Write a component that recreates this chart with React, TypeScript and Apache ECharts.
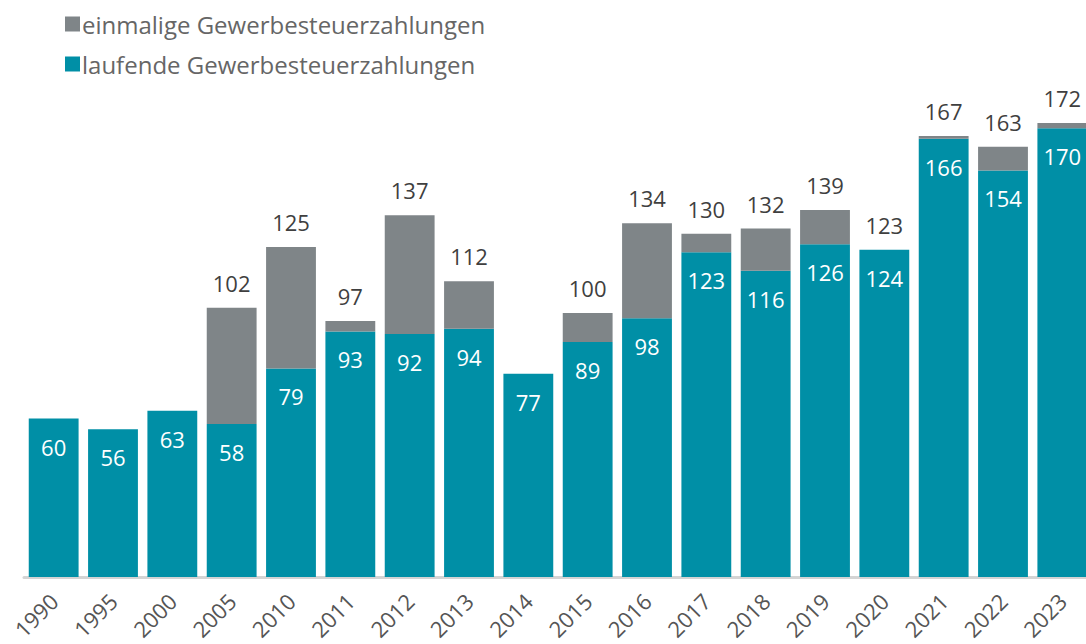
import React, { useEffect, useRef } from "react";
import * as echarts from "echarts";

const years = ["1990","1995","2000","2005","2010","2011","2012","2013","2014","2015","2016","2017","2018","2019","2020","2021","2022","2023"];
const laufende = [60,56,63,58,79,93,92,94,77,89,98,123,116,126,124,166,154,170];
const einmalige = [0,0,0,44,46,4,45,18,0,11,36,7,16,13,0,1,9,2];
const totals: (number | null)[] = [null,null,null,102,125,97,137,112,null,100,134,130,132,139,123,167,163,172];

const FONT = "'Open Sans', 'Noto Sans', sans-serif";

export default function App() {
  const ref = useRef<HTMLDivElement>(null);
  useEffect(() => {
    document.body.style.margin = "0";
    document.body.style.overflow = "hidden";
    const chart = echarts.init(ref.current!, null, { renderer: "svg" });
    chart.setOption({
      animation: false,
      textStyle: { fontFamily: FONT },
      legend: {
        orient: "vertical",
        left: 60,
        top: 7,
        itemWidth: 15,
        itemHeight: 15,
        itemGap: 16,
        icon: "rect",
        data: ["einmalige Gewerbesteuerzahlungen", "laufende Gewerbesteuerzahlungen"],
        textStyle: { fontSize: 24, color: "#666666", fontFamily: FONT, padding: [0, 0, 0, -3] },
      },
      grid: { left: 24, right: 8, top: 49, bottom: 67, containLabel: false },
      xAxis: {
        type: "category",
        data: years,
        axisLine: { lineStyle: { color: "#d4d4d4", width: 3 } },
        axisTick: { show: false },
        axisLabel: { rotate: 45, fontSize: 22, color: "#555555", margin: 20, fontFamily: FONT, interval: 0 },
      },
      yAxis: { type: "value", min: 0, max: 200, show: false, splitLine: { show: false } },
      series: [
        {
          name: "laufende Gewerbesteuerzahlungen",
          type: "bar",
          stack: "a",
          data: laufende,
          barCategoryGap: "16%",
          itemStyle: { color: "#008fa6" },
          label: {
            show: true,
            position: "insideTop",
            distance: 17,
            color: "#ffffff",
            fontSize: 22,
            fontFamily: FONT,
          },
        },
        {
          name: "einmalige Gewerbesteuerzahlungen",
          type: "bar",
          stack: "a",
          data: einmalige,
          itemStyle: { color: "#7f8588" },
          label: {
            show: true,
            position: "top",
            distance: 14,
            color: "#3f3f3f",
            fontSize: 22,
            fontFamily: FONT,
            formatter: (p: any) => {
              const t = totals[p.dataIndex];
              return t == null ? "" : String(t);
            },
          },
        },
      ],
    });
    return () => chart.dispose();
  }, []);
  return <div ref={ref} style={{ width: 1100, height: 644 }} />;
}
